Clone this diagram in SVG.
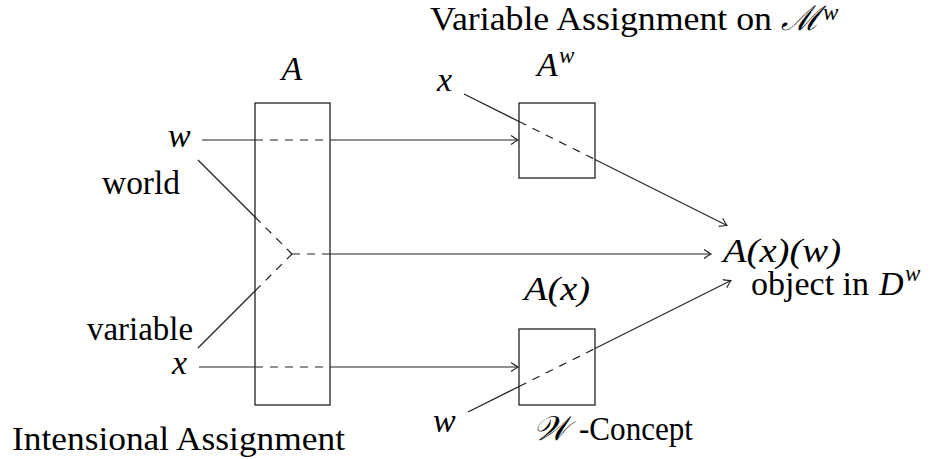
<svg xmlns="http://www.w3.org/2000/svg" width="949" height="459" viewBox="0 0 949 459">
<defs>
<style>
.t{font-family:"Liberation Serif","DejaVu Serif",serif;font-size:34px;fill:#000}
.i{font-style:italic}
.sup{font-size:23px}
.ln{stroke:#222;stroke-width:1.2;fill:none}
.d{stroke-dasharray:8 7}
.box{stroke:#222;stroke-width:1.3;fill:none}
</style>
<marker id="arr" markerWidth="12" markerHeight="12" viewBox="-10 -6 12 12" refX="0" refY="0" orient="auto" markerUnits="userSpaceOnUse">
<path d="M-7,-4.5 Q-2,-1 0,0 Q-2,1 -7,4.5" fill="none" stroke="#222" stroke-width="1.1"/>
</marker>
</defs>
<rect width="949" height="459" fill="#fff"/>

<g id="nodeA">
<rect class="box" x="255" y="103" width="75" height="302"/>
<text class="t i" x="292" y="80" text-anchor="middle">A</text>
<text class="t" x="12" y="450" textLength="333" lengthAdjust="spacingAndGlyphs">Intensional Assignment</text>
</g>

<g id="nodeAw">
<rect class="box" x="519" y="103" width="76" height="75"/>
<text class="t i" x="537" y="76">A</text>
<text class="t i sup" x="559" y="63">w</text>
<text class="t" x="430" y="30" textLength="342" lengthAdjust="spacingAndGlyphs">Variable Assignment on</text>
<text class="t i" x="781" y="30">ℳ</text>
<text class="t i sup" x="823" y="20">w</text>
</g>

<g id="nodeAx">
<rect class="box" x="519" y="329" width="76" height="76"/>
<text class="t i" x="524" y="300" textLength="66" lengthAdjust="spacingAndGlyphs">A(x)</text>
<text class="t i" x="533" y="440">𝒲</text>
<text class="t" x="579" y="440" textLength="114" lengthAdjust="spacingAndGlyphs">-Concept</text>
</g>

<g id="nodeW">
<text class="t i" x="168" y="147">w</text>
<text class="t" x="102" y="194" textLength="78" lengthAdjust="spacingAndGlyphs">world</text>
</g>

<g id="nodeX">
<text class="t i" x="172" y="374">x</text>
<text class="t" x="87" y="340" textLength="106" lengthAdjust="spacingAndGlyphs">variable</text>
</g>

<g id="nodeX2">
<text class="t i" x="437" y="91">x</text>
</g>

<g id="nodeW2">
<text class="t i" x="433" y="432">w</text>
</g>

<g id="nodeResult">
<text class="t i" x="723" y="262" textLength="118" lengthAdjust="spacingAndGlyphs">A(x)(w)</text>
<text class="t" x="751" y="295">object in</text>
<text class="t i" x="879" y="295">D</text>
<text class="t i sup" x="905" y="281">w</text>
</g>

<g id="connectors">
<path class="ln" d="M202,140 H255"/>
<path class="ln d" d="M255,140 H330"/>
<path class="ln" d="M330,140 H518" marker-end="url(#arr)"/>
<path class="ln" d="M199,367 H255"/>
<path class="ln d" d="M255,367 H330"/>
<path class="ln" d="M330,367 H518" marker-end="url(#arr)"/>
<path class="ln" d="M198,160 L255,217"/>
<path class="ln d" d="M255,217 L292,254"/>
<path class="ln" d="M198,348 L255,291"/>
<path class="ln d" d="M255,291 L292,254"/>
<path class="ln d" d="M292,254 H330"/>
<path class="ln" d="M330,254 H711" marker-end="url(#arr)"/>
<path class="ln" d="M464,94 L519,121.5"/>
<path class="ln d" d="M519,121.5 L595,159.5"/>
<path class="ln" d="M595,159.5 L727,225.5" marker-end="url(#arr)"/>
<path class="ln" d="M468,412 L519,386.5"/>
<path class="ln d" d="M519,386.5 L595,348.5"/>
<path class="ln" d="M595,348.5 L731,280.5" marker-end="url(#arr)"/>
</g>
</svg>
